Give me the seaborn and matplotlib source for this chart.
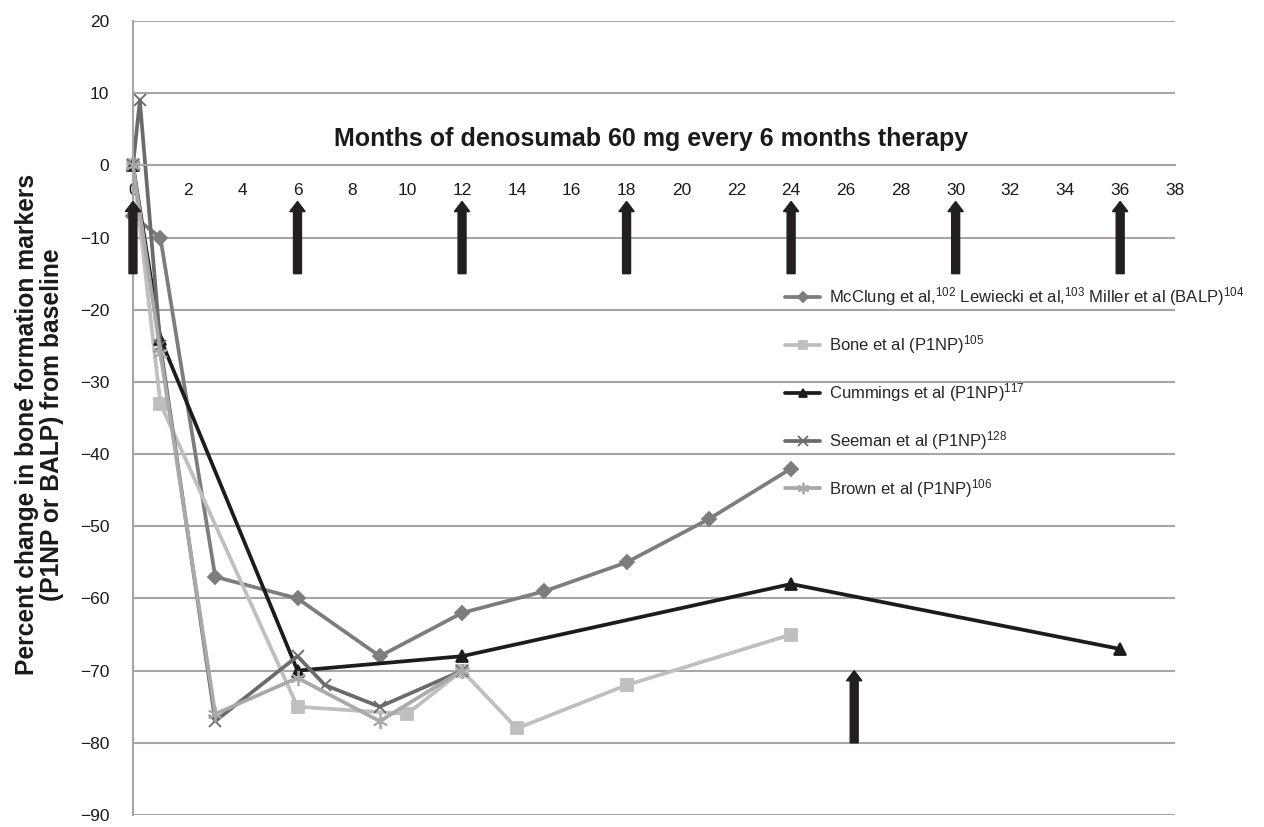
import matplotlib
matplotlib.use('Agg')
import matplotlib.pyplot as plt
import seaborn as sns

# Data (months vs % change from baseline)
mcclung_x = [0, 1, 3, 6, 9, 12, 15, 18, 21, 24]
mcclung_y = [-7, -10, -57, -60, -68, -62, -59, -55, -49, -42]

bone_x = [0, 1, 6, 10, 12, 14, 18, 24]
bone_y = [0, -33, -75, -76, -70, -78, -72, -65]

cummings_x = [0, 1, 6, 12, 24, 36]
cummings_y = [0, -24, -70, -68, -58, -67]

seeman_x = [0, 0.25, 1, 3, 6, 7, 9, 12]
seeman_y = [0, 9, -25, -77, -68, -72, -75, -70]

brown_x = [0, 1, 3, 6, 9, 12]
brown_y = [0, -26, -76, -71, -77, -70]

# dosing arrows (every 6 months) and the extra one lower down
dose_months = [0, 6, 12, 18, 24, 30, 36]
extra_arrow_month = 26.3

labels = [
    'McClung et al,$^{102}$ Lewiecki et al,$^{103}$ Miller et al (BALP)$^{104}$',
    'Bone et al (P1NP)$^{105}$',
    'Cummings et al (P1NP)$^{117}$',
    'Seeman et al (P1NP)$^{128}$',
    'Brown et al (P1NP)$^{106}$',
]

sns.set_style('white')
plt.rcParams['font.family'] = ['Liberation Sans', 'DejaVu Sans']
plt.rcParams['mathtext.default'] = 'regular'
plt.rcParams['axes.unicode_minus'] = True

fig = plt.figure(figsize=(12.64, 8.27), dpi=100)
ax = fig.add_axes([0.1052, 0.0145, 0.8244, 0.9601])

grid_col = '#a6a6a6'
ax.set_xlim(0, 38)
ax.set_ylim(-90, 20)
ax.set_xticks(range(0, 39, 2))
ax.set_yticks(range(-90, 21, 10))
ax.yaxis.grid(True, color=grid_col, linewidth=1.5)
ax.xaxis.grid(False)
ax.set_axisbelow(True)

for s in ['top', 'right']:
    ax.spines[s].set_visible(False)
ax.spines['bottom'].set_position(('data', 0))
for s in ['left', 'bottom']:
    ax.spines[s].set_color(grid_col)
    ax.spines[s].set_linewidth(1.5)

ax.tick_params(axis='x', direction='out', length=4, width=1.2, color=grid_col,
               labelsize=12.5, pad=9, labelcolor='#1a1a1a')
ax.tick_params(axis='y', direction='out', length=5, width=1.2, color=grid_col,
               labelsize=12.5, pad=12, labelcolor='#1a1a1a')

lw = 2.7
series = [
    (mcclung_x, mcclung_y, '#7d7d7d', 'D', 7),
    (bone_x, bone_y, '#bfbfbf', 's', 8.5),
    (cummings_x, cummings_y, '#1c1c1c', '^', 8),
    (seeman_x, seeman_y, '#6b6b6b', 'x', 9),
    (brown_x, brown_y, '#a9a9a9', (6, 2, 0), 11),
]
for (xs, ys, col, mk, ms), lab in zip(series, labels):
    sns.lineplot(x=xs, y=ys, ax=ax, color=col, marker=mk, markersize=ms,
                 linewidth=lw, markeredgecolor=col, markeredgewidth=1.3,
                 label=lab, legend=False, clip_on=False, sort=False)

# dosing arrows
arrow_kw = dict(width=0.29, head_width=0.56, head_length=1.4,
                length_includes_head=True, color='#231f20', zorder=5)
for m in dose_months:
    ax.arrow(m, -15, 0, 10, clip_on=False, **arrow_kw)
ax.arrow(extra_arrow_month, -80, 0, 10, **arrow_kw)

ax.set_xlabel('Months of denosumab 60 mg every 6 months therapy',
              fontsize=18, fontweight='bold', color='#1a1a1a')
ax.xaxis.set_label_coords(0.497, 0.867)
ax.set_ylabel('Percent change in bone formation markers\n(P1NP or BALP) from baseline',
              fontsize=17.7, fontweight='bold', color='#1a1a1a', linespacing=1.05)
ax.yaxis.set_label_coords(-0.066, 0.492)

ax.legend(loc='upper left', bbox_to_anchor=(0.626, 0.667), frameon=False,
          fontsize=12, handlelength=2.1, handletextpad=0.5, labelspacing=1.5,
          borderaxespad=0, borderpad=0, markerscale=0.75)

fig.savefig('out.png', dpi=100)
